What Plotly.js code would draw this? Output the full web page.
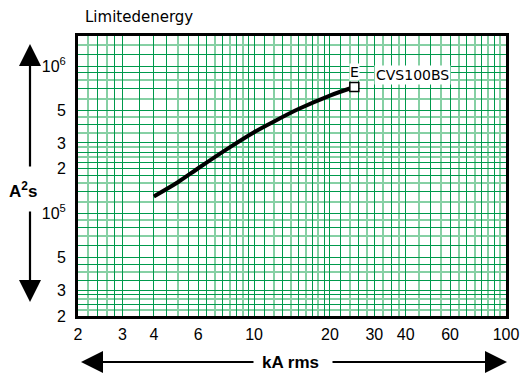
<!DOCTYPE html>
<html>
<head>
<meta charset="utf-8">
<script src="https://cdn.plot.ly/plotly-3.0.1.min.js"></script>
<style>html,body{margin:0;padding:0;background:#fff;}#chart{width:526px;height:374px;}</style>
</head>
<body>
<div id="chart"></div>
<script>
// ---- data ----
const currentKA = [4, 5, 6, 8, 10, 12, 15, 20, 25];
const energyA2s = [1.3e5, 1.63e5, 2.02e5, 2.8e5, 3.55e5, 4.2e5, 5.1e5, 6.3e5, 7.2e5];
const endLabel = 'E';
const seriesName = 'CVS100BS';

const xTickVals = [2, 3, 4, 6, 10, 20, 30, 40, 60, 100];
const xTickText = ['2', '3', '4', '6', '10', '20', '30', '40', '60', '100'];
const yTickVals = [2e4, 3e4, 5e4, 1e5, 2e5, 3e5, 5e5, 1e6];
const yTickText = ['2', '3', '5', '10<sup>5</sup>', '2', '3', '5', '10<sup>6</sup>'];

// ---- grid helpers (styling only) ----
function seq(a, b, s) { const r = []; for (let v = a; v <= b + 1e-9; v += s) r.push(+v.toFixed(4)); return r; }
function uniq(arr) { return [...new Set(arr.map(v => +v.toPrecision(6)))].sort((p, q) => p - q); }
const xGrid = uniq([].concat(seq(2, 3, 0.2), seq(3, 10, 0.5), seq(10, 20, 1), seq(20, 30, 2), seq(30, 40, 2.5), seq(40, 100, 5)));
let yGrid = [];
[1e4, 1e5, 1e6].forEach(d => { yGrid = yGrid.concat(seq(1, 3, 0.2).map(v => v * d), seq(3, 5, 0.5).map(v => v * d), seq(5, 10, 1).map(v => v * d)); });
yGrid = uniq(yGrid).filter(v => v >= 2e4 && v <= 1.6e6);

function split(grid, labelled) {
  const dark = [], light = [];
  grid.forEach((v, i) => { if (labelled.some(t => Math.abs(t - v) / v < 1e-6) || i % 2 === 0) dark.push(v); else light.push(v); });
  return [dark, light];
}
const [xDark, xLight] = split(xGrid, xTickVals);
const [yDark, yLight] = split(yGrid, yTickVals);
function labelsFor(vals, tv, tt) { return vals.map(v => { const k = tv.findIndex(t => Math.abs(t - v) / v < 1e-6); return k >= 0 ? tt[k] : ''; }); }

const FONT = 'Liberation Sans, Arial, sans-serif';
const FONT2 = 'DejaVu Sans, sans-serif';
const DARK = '#00994c';
const LIGHT = '#86d0a4';

const traces = [
  {
    x: currentKA, y: energyA2s, type: 'scatter', mode: 'lines',
    line: { color: '#000', width: 4, shape: 'spline', smoothing: 0.8 },
    hoverinfo: 'skip', showlegend: false
  },
  {
    x: [currentKA[currentKA.length - 1]], y: [energyA2s[energyA2s.length - 1]],
    type: 'scatter', mode: 'markers',
    marker: { symbol: 'square', size: 9, color: '#fff', line: { color: '#000', width: 1.5 } },
    showlegend: false, hoverinfo: 'skip'
  }
];

const lastX = Math.log10(currentKA[currentKA.length - 1]);
const lastY = Math.log10(energyA2s[energyA2s.length - 1]);

const arrow = { xref: 'paper', yref: 'paper', text: '', showarrow: true, arrowhead: 2, arrowsize: 2, arrowwidth: 2.2, arrowcolor: '#000', axref: 'pixel', ayref: 'pixel' };

const layout = {
  width: 526, height: 374,
  margin: { l: 78, r: 20, t: 36, b: 58 },
  paper_bgcolor: '#fff', plot_bgcolor: '#fff',
  font: { family: FONT, color: '#000', size: 16 },
  title: {
    text: 'Limitedenergy', xref: 'container', yref: 'container',
    x: 85 / 526, xanchor: 'left', y: 1 - 17 / 374, yanchor: 'middle',
    font: { family: FONT2, size: 15, color: '#000' }
  },
  xaxis: {
    type: 'log', range: [Math.log10(2), Math.log10(100)],
    tickmode: 'array', tickvals: xDark, ticktext: labelsFor(xDark, xTickVals, xTickText),
    showgrid: true, gridcolor: DARK, gridwidth: 1,
    minor: { tickmode: 'array', tickvals: xLight, showgrid: true, gridcolor: LIGHT, gridwidth: 2, ticks: '' },
    showline: true, linecolor: '#000', linewidth: 3, mirror: true,
    ticks: '', ticklabelstandoff: 2, zeroline: false,
    tickfont: { family: FONT, size: 16, color: '#000' }
  },
  yaxis: {
    type: 'log', range: [Math.log10(2e4), Math.log10(1.6e6)],
    tickmode: 'array', tickvals: yDark, ticktext: labelsFor(yDark, yTickVals, yTickText),
    showgrid: true, gridcolor: DARK, gridwidth: 1,
    minor: { tickmode: 'array', tickvals: yLight, showgrid: true, gridcolor: LIGHT, gridwidth: 2, ticks: '' },
    showline: true, linecolor: '#000', linewidth: 3, mirror: true,
    ticks: '', ticklabelstandoff: 6, zeroline: false,
    tickfont: { family: FONT, size: 16, color: '#000' }
  },
  annotations: [
    { x: lastX, y: lastY, xref: 'x', yref: 'y', text: endLabel, showarrow: false,
      xanchor: 'center', yanchor: 'middle',
      yshift: 15, font: { family: FONT2, size: 14, color: '#000' }, bgcolor: '#fff', borderpad: 0 },
    { x: lastX, y: lastY, xref: 'x', yref: 'y', text: seriesName, showarrow: false,
      xanchor: 'left', yanchor: 'middle', xshift: 20, yshift: 12, font: { family: FONT2, size: 14, color: '#000' }, bgcolor: '#fff', borderpad: 1 },
    // y-axis label and arrows
    { x: (23 - 78) / 428, y: (316 - 190) / 280, xref: 'paper', yref: 'paper', xanchor: 'center', yanchor: 'middle',
      text: '<b>A<sup>2</sup>s</b>', showarrow: false, font: { family: FONT, size: 17, color: '#000' } },
    Object.assign({}, arrow, { x: (30 - 78) / 428, y: (316 - 44) / 280, ax: 0, ay: 124 }),
    Object.assign({}, arrow, { x: (30 - 78) / 428, y: (316 - 302) / 280, ax: 0, ay: -92 }),
    // x-axis label and arrows
    { x: (290 - 78) / 428, y: (316 - 362) / 280, xref: 'paper', yref: 'paper', xanchor: 'center', yanchor: 'middle',
      text: '<b>kA rms</b>', showarrow: false, font: { family: FONT, size: 17, color: '#000' } },
    Object.assign({}, arrow, { x: (81 - 78) / 428, y: (316 - 362) / 280, ax: 174, ay: 0 }),
    Object.assign({}, arrow, { x: (507 - 78) / 428, y: (316 - 362) / 280, ax: -176, ay: 0 })
  ]
};

Plotly.newPlot('chart', traces, layout, { staticPlot: true, displayModeBar: false });
</script>
</body>
</html>
